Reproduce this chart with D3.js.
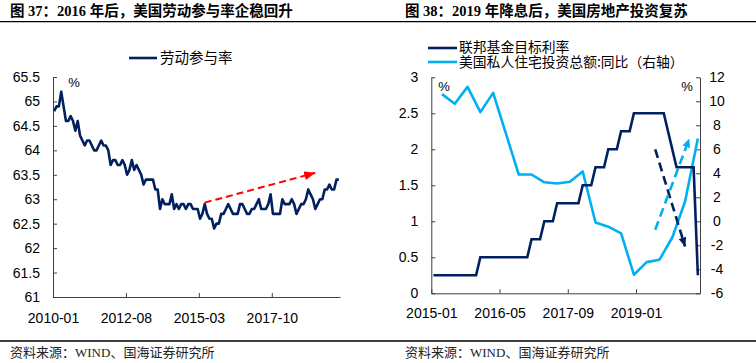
<!DOCTYPE html>
<html>
<head>
<meta charset="utf-8">
<script src="https://cdn.jsdelivr.net/npm/d3@7"></script>
<style>
  body { margin: 0; background: #fff; }
  svg { display: block; }
</style>
</head>
<body>
<div id="chart"></div>
<script>
// ---- data ----
// US labour force participation rate, monthly 2010-01 .. 2020-02
var lfprValues = [
  64.8, 64.9, 64.9, 65.2, 64.9, 64.6, 64.6, 64.7, 64.6, 64.4, 64.6, 64.3,
  64.2, 64.1, 64.2, 64.2, 64.1, 64.0, 64.0, 64.1, 64.2, 64.1, 64.1, 64.0,
  63.7, 63.8, 63.8, 63.7, 63.7, 63.8, 63.7, 63.5, 63.6, 63.8, 63.6, 63.7,
  63.6, 63.5, 63.3, 63.4, 63.4, 63.4, 63.4, 63.2, 63.2, 62.8, 63.0, 62.9,
  62.9, 62.9, 63.1, 62.8, 62.9, 62.8, 62.9, 62.9, 62.8, 62.9, 62.9, 62.8,
  62.8, 62.8, 62.6, 62.7, 62.9, 62.7, 62.6, 62.6, 62.4, 62.5, 62.5, 62.7,
  62.7, 62.8, 62.9, 62.8, 62.7, 62.7, 62.7, 62.9, 62.9, 62.8, 62.7, 62.7,
  62.8, 62.8, 62.9, 63.0, 62.8, 62.8, 62.8, 62.9, 63.1, 62.7, 62.7, 62.7,
  62.7, 63.0, 62.9, 62.9, 62.9, 63.0, 62.9, 62.7, 62.8, 62.9, 62.9, 63.0,
  63.2, 63.1, 63.0, 62.8, 62.9, 63.0, 63.0, 63.2, 63.2, 63.3, 63.2, 63.2,
  63.4, 63.4
];
var lfprStart = "2010-01";
var lfprTicks = ["2010-01", "2012-08", "2015-03", "2017-10"];
var lfprTickValues = [61, 61.5, 62, 62.5, 63, 63.5, 64, 64.5, 65, 65.5];
// trend arrow, [month label, value]
var lfprArrow = [["2015-05", 62.93], ["2019-04", 63.54]];

// fed funds target rate (upper), monthly 2015-01 .. 2020-03
var fedValues = [
  0.25, 0.25, 0.25, 0.25, 0.25, 0.25, 0.25, 0.25, 0.25, 0.25, 0.25, 0.5,
  0.5, 0.5, 0.5, 0.5, 0.5, 0.5, 0.5, 0.5, 0.5, 0.5, 0.5, 0.75,
  0.75, 0.75, 1.0, 1.0, 1.0, 1.25, 1.25, 1.25, 1.25, 1.25, 1.25, 1.5,
  1.5, 1.5, 1.75, 1.75, 1.75, 2.0, 2.0, 2.0, 2.25, 2.25, 2.25, 2.5,
  2.5, 2.5, 2.5, 2.5, 2.5, 2.5, 2.5, 2.25, 2.0, 1.75, 1.75, 1.75,
  1.75, 1.75, 0.25
];
var rightStart = "2015-01";
// private residential investment yoy, quarterly
var houseQuarters = [
  "2015-03", "2015-06", "2015-09", "2015-12", "2016-03", "2016-06", "2016-09",
  "2016-12", "2017-03", "2017-06", "2017-09", "2017-12", "2018-03", "2018-06",
  "2018-09", "2018-12", "2019-03", "2019-06", "2019-09", "2019-12", "2020-03"
];
var houseValues = [
  10.6, 9.8, 11.2, 9.1, 10.7, 7.3, 3.9, 3.9, 3.25, 3.15, 3.3, 4.15,
  -0.1, -0.45, -1.0, -4.45, -3.4, -3.2, -1.35, 1.65, 6.9
];
var rightTicks = ["2015-01", "2016-05", "2017-09", "2019-01"];
var fedTickValues = [0, 0.5, 1, 1.5, 2, 2.5, 3];
var houseTickValues = [-6, -4, -2, 0, 2, 4, 6, 8, 10, 12];
var fedArrow = [["2019-05", 2.0], ["2019-12", 0.65]];
var houseArrow = [["2019-05", -0.7], ["2020-01", 6.9]];

var navy = "#002060",
  lightBlue = "#00b0f0",
  red = "#ff0000",
  axisColor = "#404040",
  numFont = "'Liberation Sans', Arial, sans-serif",
  cjkFont = "'Noto Sans CJK SC', sans-serif",
  titleFont = "'Liberation Serif', 'Noto Sans CJK SC', serif";

// month label -> index from a start label
function monthIndex(label, start) {
  var a = label.split("-"), b = start.split("-");
  return (+a[0] - +b[0]) * 12 + (+a[1] - +b[1]);
}

var svg = d3.select("#chart").append("svg")
  .attr("width", 756).attr("height", 363);
svg.append("rect").attr("width", 756).attr("height", 363).attr("fill", "#fff");

var defs = svg.append("defs");
function addMarker(id, color, len, wid) {
  defs.append("marker")
    .attr("id", id)
    .attr("viewBox", "0 0 " + len + " " + wid)
    .attr("refX", len).attr("refY", wid / 2)
    .attr("markerWidth", len).attr("markerHeight", wid)
    .attr("markerUnits", "userSpaceOnUse")
    .attr("orient", "auto")
    .append("path")
    .attr("d", "M0,0L" + len + "," + wid / 2 + "L0," + wid + "Z")
    .attr("fill", color);
}
addMarker("arrRed", red, 11, 9);
addMarker("arrNavy", navy, 9, 8);
addMarker("arrBlue", lightBlue, 9, 8);

// titles, rules, sources
svg.append("text").attr("x", 10).attr("y", 16)
  .attr("font-family", titleFont).attr("font-weight", "bold").attr("font-size", 14.5)
  .text("图 37：2016 年后，美国劳动参与率企稳回升");
svg.append("text").attr("x", 405).attr("y", 16)
  .attr("font-family", titleFont).attr("font-weight", "bold").attr("font-size", 14.5)
  .text("图 38：2019 年降息后，美国房地产投资复苏");
svg.append("line").attr("x1", 0).attr("x2", 756).attr("y1", 21.7).attr("y2", 21.7)
  .attr("stroke", "#000").attr("stroke-width", 1.3);
svg.append("line").attr("x1", 0).attr("x2", 756).attr("y1", 341).attr("y2", 341)
  .attr("stroke", "#000").attr("stroke-width", 1.3);
[10, 405].forEach(function (x) {
  svg.append("text").attr("x", x).attr("y", 357)
    .attr("font-family", titleFont).attr("font-size", 13).attr("fill", "#222")
    .text("资料来源：WIND、国海证券研究所");
});

function styleAxis(g) {
  g.select(".domain").attr("stroke", axisColor).attr("stroke-width", 1);
  g.selectAll(".tick line").attr("stroke", axisColor);
  g.selectAll(".tick text").attr("fill", "#000")
    .attr("font-family", numFont).attr("font-size", 14);
}

// ---------------- left chart ----------------
var xL = d3.scaleLinear().domain([0, 122]).range([53, 340]);
var yL = d3.scaleLinear().domain([61, 65.5]).range([297, 77]);
function pxL(label) { return xL(monthIndex(label, lfprStart) + 0.5); }

svg.append("g").attr("transform", "translate(53,0)")
  .call(d3.axisLeft(yL).tickValues(lfprTickValues).tickSizeInner(-4).tickSizeOuter(0)
    .tickPadding(13).tickFormat(function (d) { return String(d); }))
  .call(styleAxis);
svg.append("g").attr("transform", "translate(0,297)")
  .call(d3.axisBottom(xL)
    .tickValues(lfprTicks.map(function (t) { return monthIndex(t, lfprStart); }))
    .tickSizeInner(-4).tickSizeOuter(0).tickPadding(16)
    .tickFormat(function (d, i) { return lfprTicks[i]; }))
  .call(styleAxis);

svg.append("path")
  .datum(lfprValues)
  .attr("fill", "none").attr("stroke", navy).attr("stroke-width", 2.6)
  .attr("stroke-linejoin", "round")
  .attr("d", d3.line()
    .x(function (d, i) { return xL(i + 0.5); })
    .y(function (d) { return yL(d); }));

svg.append("line")
  .attr("x1", pxL(lfprArrow[0][0])).attr("y1", yL(lfprArrow[0][1]))
  .attr("x2", pxL(lfprArrow[1][0])).attr("y2", yL(lfprArrow[1][1]))
  .attr("stroke", red).attr("stroke-width", 2).attr("stroke-dasharray", "7,4")
  .attr("marker-end", "url(#arrRed)");

svg.append("text").attr("x", 74).attr("y", 87).attr("text-anchor", "middle")
  .attr("font-family", numFont).attr("font-size", 13).text("%");

svg.append("line").attr("x1", 129).attr("x2", 157).attr("y1", 58).attr("y2", 58)
  .attr("stroke", navy).attr("stroke-width", 2.6);
svg.append("text").attr("x", 160).attr("y", 58).attr("dy", "0.35em")
  .attr("font-family", cjkFont).attr("font-size", 14.5).text("劳动参与率");

// ---------------- right chart ----------------
var xR = d3.scaleLinear().domain([0, 63]).range([431.3, 700]);
var yR1 = d3.scaleLinear().domain([0, 3]).range([293.3, 77.3]);
var yR2 = d3.scaleLinear().domain([-6, 12]).range([293.3, 77.3]);
function pxR(label) { return xR(monthIndex(label, rightStart) + 0.5); }

svg.append("g").attr("transform", "translate(431.3,0)")
  .call(d3.axisLeft(yR1).tickValues(fedTickValues).tickSizeInner(-4).tickSizeOuter(0)
    .tickPadding(13).tickFormat(function (d) { return String(d); }))
  .call(styleAxis);
var rAxis = svg.append("g").attr("transform", "translate(700,0)")
  .call(d3.axisRight(yR2).tickValues(houseTickValues).tickSizeInner(-4).tickSizeOuter(0)
    .tickPadding(17).tickFormat(function (d) { return String(d); }))
  .call(styleAxis);
rAxis.selectAll(".tick text").attr("text-anchor", "middle");
svg.append("g").attr("transform", "translate(0,293.3)")
  .call(d3.axisBottom(xR)
    .tickValues(rightTicks.map(function (t) { return monthIndex(t, rightStart); }))
    .tickSizeInner(-4).tickSizeOuter(0).tickPadding(15)
    .tickFormat(function (d, i) { return rightTicks[i]; }))
  .call(styleAxis);

svg.append("path")
  .datum(houseValues)
  .attr("fill", "none").attr("stroke", lightBlue).attr("stroke-width", 2.6)
  .attr("stroke-linejoin", "round")
  .attr("d", d3.line()
    .x(function (d, i) { return pxR(houseQuarters[i]); })
    .y(function (d) { return yR2(d); }));

svg.append("path")
  .datum(fedValues)
  .attr("fill", "none").attr("stroke", navy).attr("stroke-width", 2.6)
  .attr("d", d3.line()
    .x(function (d, i) { return xR(i + 0.5); })
    .y(function (d) { return yR1(d); }));

svg.append("line")
  .attr("x1", pxR(fedArrow[0][0])).attr("y1", yR1(fedArrow[0][1]))
  .attr("x2", pxR(fedArrow[1][0])).attr("y2", yR1(fedArrow[1][1]))
  .attr("stroke", navy).attr("stroke-width", 2.6).attr("stroke-dasharray", "9,5")
  .attr("marker-end", "url(#arrNavy)");
svg.append("line")
  .attr("x1", pxR(houseArrow[0][0])).attr("y1", yR2(houseArrow[0][1]))
  .attr("x2", pxR(houseArrow[1][0])).attr("y2", yR2(houseArrow[1][1]))
  .attr("stroke", lightBlue).attr("stroke-width", 2.6).attr("stroke-dasharray", "9,5")
  .attr("marker-end", "url(#arrBlue)");

svg.append("text").attr("x", 444).attr("y", 91).attr("text-anchor", "middle")
  .attr("font-family", numFont).attr("font-size", 13).text("%");
svg.append("text").attr("x", 687).attr("y", 91).attr("text-anchor", "middle")
  .attr("font-family", numFont).attr("font-size", 13).text("%");

svg.append("line").attr("x1", 428).attr("x2", 457).attr("y1", 48).attr("y2", 48)
  .attr("stroke", navy).attr("stroke-width", 2.6);
svg.append("text").attr("x", 459).attr("y", 47.5).attr("dy", "0.35em")
  .attr("font-family", cjkFont).attr("font-size", 13.8).text("联邦基金目标利率");
svg.append("line").attr("x1", 428).attr("x2", 457).attr("y1", 62).attr("y2", 62)
  .attr("stroke", lightBlue).attr("stroke-width", 2.6);
svg.append("text").attr("x", 459).attr("y", 62.5).attr("dy", "0.35em")
  .attr("font-family", cjkFont).attr("font-size", 13.8).text("美国私人住宅投资总额:同比（右轴）");
</script>
</body>
</html>
